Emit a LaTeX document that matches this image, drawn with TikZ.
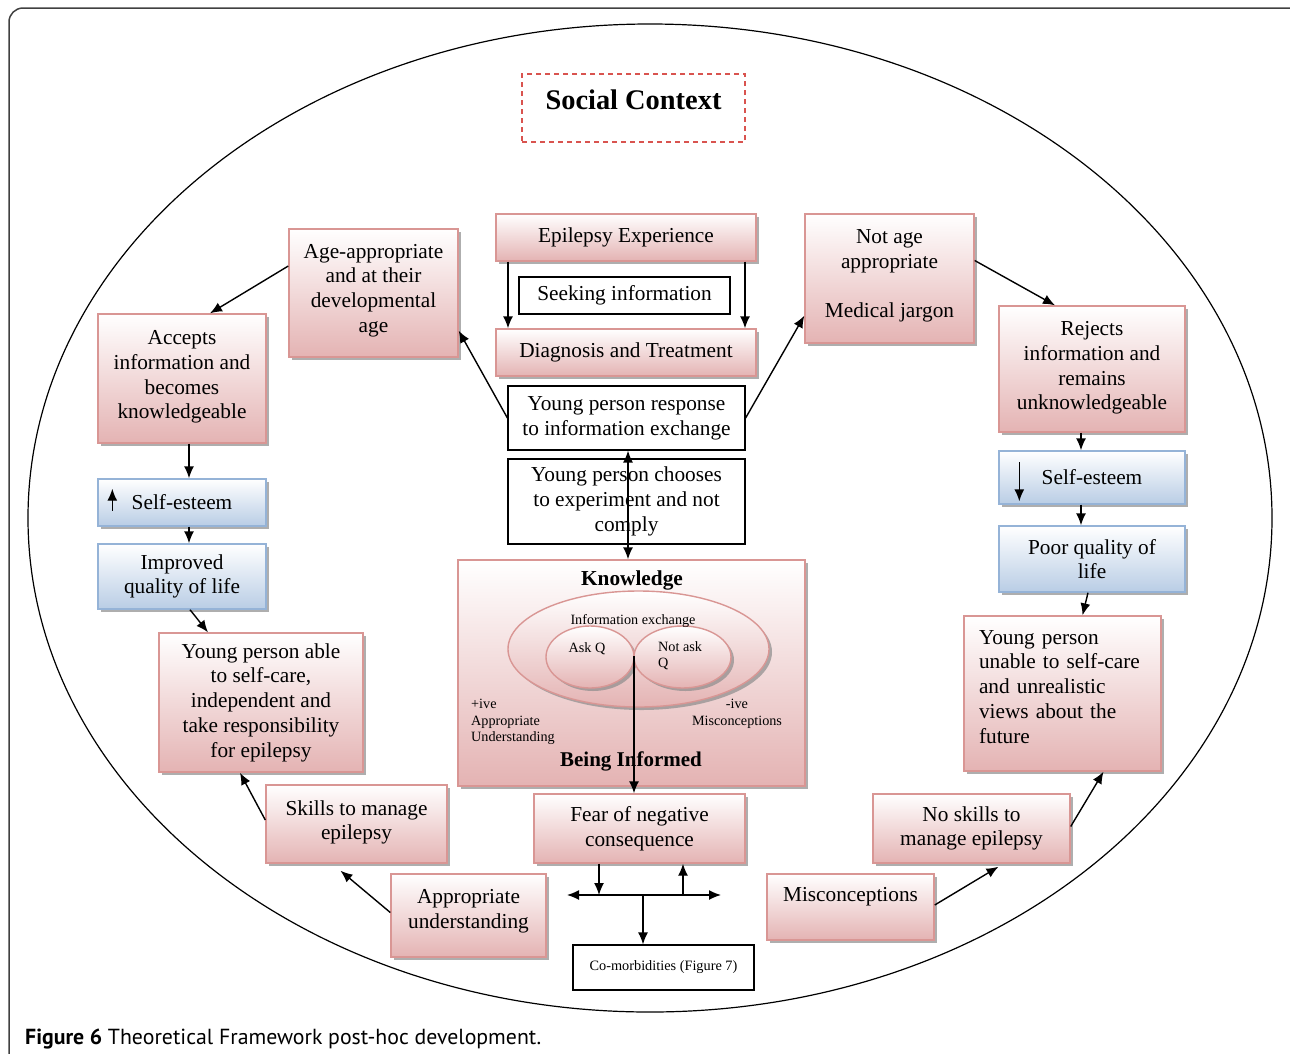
\documentclass[tikz,border=0pt]{standalone}
\usepackage{fontspec}
\setmainfont{Liberation Serif}
\newfontfamily\capfont{PT Sans}
\usetikzlibrary{arrows.meta,shapes.geometric,shadows}
\definecolor{pinkline}{HTML}{D99694}
\definecolor{pinkfill}{HTML}{E4B3B3}
\definecolor{blueline}{HTML}{95B3D7}
\definecolor{bluefill}{HTML}{B9CDE5}
\definecolor{redline}{HTML}{D9534F}

\begin{document}
\begin{tikzpicture}[x=1pt,y=-1pt]
\tikzstyle{pbox}=[rectangle, draw=pinkline, line width=1.4pt, top color=white, bottom color=pinkfill, drop shadow={shadow xshift=3pt, shadow yshift=-3pt, fill=black!45, opacity=0.7}, align=center, inner sep=0pt, font=\fontsize{21.3}{24.7}\selectfont]
\tikzstyle{bbox}=[pbox, draw=blueline, bottom color=bluefill]
\tikzstyle{pell}=[pbox, ellipse]
\tikzstyle{wbox}=[rectangle, draw, line width=1.2pt, fill=white, align=center, inner sep=0pt, font=\fontsize{21.3}{24.7}\selectfont]
\tikzstyle{small}=[inner sep=0pt, font=\fontsize{14.2}{16.5}\selectfont]
\tikzstyle{arr}=[-{Latex[length=12pt,width=10pt]}, line width=1.4pt]
\tikzstyle{darr}=[{Latex[length=12pt,width=10pt]}-{Latex[length=12pt,width=10pt]}, line width=1.4pt]
\useasboundingbox (0,0) rectangle (1290,1053);
\clip (0,0) rectangle (1290,1053);
\draw[black!75, line width=1.5pt, rounded corners=14pt] (9,8) rectangle (1330,1100);
\draw[line width=1.2pt] (650,518) ellipse [x radius=622, y radius=494];
\node[draw=redline, dash pattern=on 5pt off 4pt, line width=1.2pt, minimum width=223pt, minimum height=68pt, text depth=16pt, font=\bfseries\fontsize{28.4}{32}\selectfont](SC) at (633.5,108) {Social Context};

% centre column
\node[pbox, minimum width=260pt, minimum height=47pt](EE) at (626,237.5) {Epilepsy Experience};
\node[wbox, minimum width=211pt, minimum height=37pt](SI) at (624.5,295.5) {Seeking information};
\node[pbox, minimum width=260pt, minimum height=47pt](DT) at (626,352.5) {Diagnosis and Treatment};
\node[wbox, minimum width=237pt, minimum height=64pt](YR) at (626.5,418) {Young person response\\to information exchange};
\node[wbox, minimum width=237pt, minimum height=85pt](YC) at (626.5,501.5) {Young person chooses\\to experiment and not\\comply};
\node[pbox, minimum width=347pt, minimum height=226pt](KN) at (631.5,673) {};
\node[pell, minimum width=261pt, minimum height=116pt](IE) at (638.5,649) {};
\node[pell, minimum width=88pt, minimum height=62pt](AQ) at (590,657) {};
\node[pell, minimum width=97pt, minimum height=62pt](NQ) at (682.5,657) {};
\node[inner sep=0pt, font=\bfseries\fontsize{21.3}{24}\selectfont](KT) at (632,580) {Knowledge};
\node[inner sep=0pt, font=\bfseries\fontsize{21}{24}\selectfont](BI) at (631,761) {Being Informed};
\node[small](IX) at (633,621) {Information exchange};
\node[small](AT) at (587,649) {Ask Q};
\node[small, align=left, anchor=north west](NT) at (658,641) {Not ask\\Q};
\node[small, align=left, anchor=north west](PV) at (471,699) {+ive\\Appropriate\\Understanding};
\node[small, align=center](NV) at (737,714) {-ive\\Misconceptions};
\node[pbox, minimum width=211pt, minimum height=69pt](FE) at (639.5,828.5) {Fear of negative\\consequence};
\node[wbox, minimum width=181pt, minimum height=45pt, font=\fontsize{14.3}{16.5}\selectfont](CM) at (663.5,967.5) {Co-morbidities (Figure 7)};
\coordinate (J) at (634,656);
\coordinate (HL) at (567,895);
\coordinate (HM) at (643,895);
\coordinate (HR) at (721,895);

% left side
\node[pbox, minimum width=169pt, minimum height=128pt](AA) at (373.5,293) {Age-appropriate\\and at their\\developmental\\age\\[-15pt]\mbox{}};
\node[pbox, minimum width=168pt, minimum height=129pt](AC) at (182,378.5) {Accepts\\information and\\becomes\\knowledgeable\\[-17pt]\mbox{}};
\node[bbox, minimum width=168pt, minimum height=47pt](SL) at (182,502.5) {Self-esteem};
\node[bbox, minimum width=168pt, minimum height=65pt](IQ) at (182,576.5) {Improved\\quality of life};
\node[pbox, minimum width=204pt, minimum height=139pt](YA) at (261,702.5) {Young person able\\to self-care,\\independent and\\take responsibility\\for epilepsy};
\node[pbox, minimum width=181pt, minimum height=78pt](SK) at (356.5,824) {Skills to manage\\epilepsy\\[-16.7pt]\mbox{}};
\node[pbox, minimum width=155pt, minimum height=83pt](AU) at (468.5,915.5) {Appropriate\\understanding\\[-12pt]\mbox{}};

% right side
\node[pbox, minimum width=169pt, minimum height=129pt](NA) at (889.5,278.5) {Not age\\appropriate\\[24.7pt]Medical jargon\\[-15pt]\mbox{}};
\node[pbox, minimum width=186pt, minimum height=126pt](RJ) at (1092,369) {Rejects\\information and\\remains\\unknowledgeable\\[-18pt]\mbox{}};
\node[bbox, minimum width=186pt, minimum height=53pt](SR) at (1092,477.5) {Self-esteem};
\node[bbox, minimum width=186pt, minimum height=66pt](PQ) at (1092,559) {Poor quality of\\life};
\node[pbox, minimum width=197pt, minimum height=155pt, text width=167pt, align=left](YU) at (1062.5,693.5) {Young person\\unable to self-care\\and unrealistic\\views about the\\future\\[-11pt]\mbox{}};
\node[pbox, minimum width=197pt, minimum height=69pt](NS) at (971.5,828.5) {No skills to\\manage epilepsy};
\node[pbox, minimum width=167pt, minimum height=66pt](MC) at (850.5,907) {Misconceptions\\ \mbox{}};

\node[anchor=base west, inner sep=0pt, font=\capfont\fontsize{21.8}{24}\selectfont](CAP) at (25,1044) {\textbf{Figure 6} Theoretical Framework post-hoc development.};

\draw[arr] ([xshift=-118pt]EE.south) -- ([xshift=-118pt]DT.north);
\draw[arr] ([xshift=119pt]EE.south) -- ([xshift=119pt]DT.north);
\draw[arr] (YR.west) -- ([yshift=27pt]AA.south east);
\draw[arr] (YR.east) -- ([yshift=28pt]NA.south west);
\draw[arr] ([yshift=27pt]AA.west) -- ([xshift=28pt]AC.north);
\draw[arr] ([yshift=18pt]NA.east) -- ([xshift=-37pt]RJ.north);
\draw[arr] ([xshift=7pt]AC.south) -- ([xshift=7pt]SL.north);
\draw[arr] ([xshift=7pt]SL.south) -- ([xshift=7pt]IQ.north);
\draw[arr] ([xshift=8pt]IQ.south) -- ([xshift=-53pt]YA.north);
\draw[arr] ([yshift=4pt]SK.west) -- ([xshift=-21pt]YA.south);
\draw[arr] ([yshift=3pt]AU.west) -- ([xshift=-16pt,yshift=-7pt]SK.south);
\draw[arr] ([xshift=-11pt]RJ.south) -- ([xshift=-11pt]SR.north);
\draw[arr] ([xshift=-11pt]SR.south) -- ([xshift=-11pt]PQ.north);
\draw[arr] ([xshift=-4pt]PQ.south) -- ([xshift=20pt]YU.north);
\draw[arr] ([yshift=2pt]NS.east) -- ([xshift=41pt]YU.south);
\draw[arr] ([yshift=2pt]MC.east) -- ([xshift=27pt,yshift=-3pt]NS.south);
\draw[arr] ([shift={(15,-16)}]SL.south west) -- ([shift={(15,-38)}]SL.south west);
\draw[arr] ([shift={(21,12)}]SR.north west) -- ([shift={(21,51)}]SR.north west);
\draw[darr] ([xshift=1.5pt]YR.south) -- ([xshift=1.5pt]YR.south |- KN.north);
\draw[arr] (J) -- (J |- FE.north);
\draw[darr] (HL) -- (HR);
\draw[arr] ([xshift=-40.5pt]FE.south) -- ([xshift=-40.5pt]FE.south |- HM);
\draw[arr] ([xshift=43.5pt]FE.south |- HM) -- ([xshift=43.5pt]FE.south);
\draw[arr] (HM) -- (HM |- CM.north);
\end{tikzpicture}
\end{document}
